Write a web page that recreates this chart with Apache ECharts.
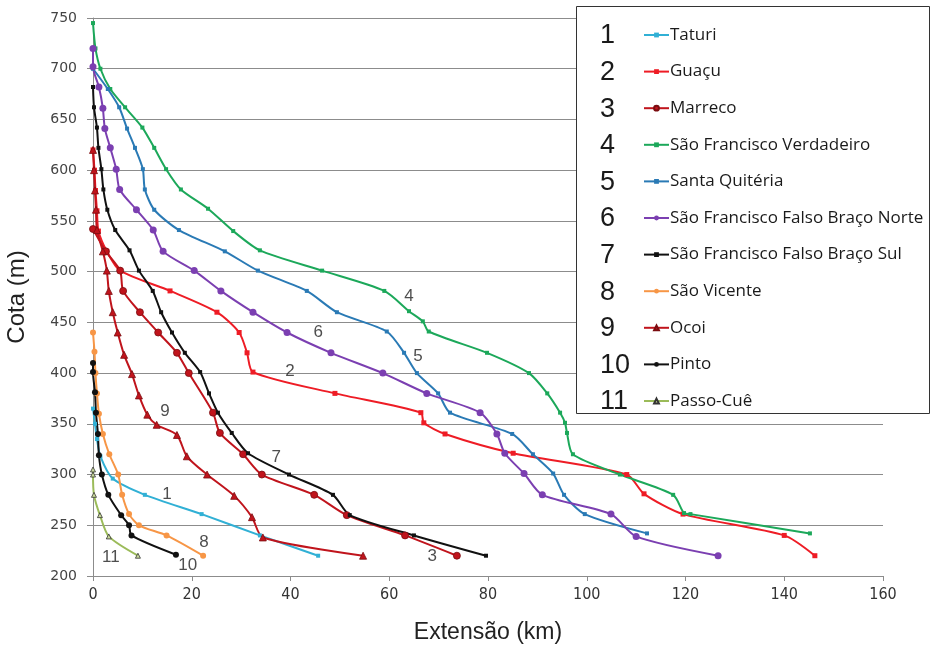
<!DOCTYPE html>
<html>
<head>
<meta charset="utf-8">
<script src="https://cdn.jsdelivr.net/npm/echarts@6/dist/echarts.min.js"></script>
<style>html,body{margin:0;padding:0;background:#fff;}#c{width:931px;height:646px;}</style>
</head>
<body>
<div id="c"></div>
<script>
// ---- data (x = Extensão km, y = Cota m) ----
const names = ['Taturi','Guaçu','Marreco','São Francisco Verdadeiro','Santa Quitéria','São Francisco Falso Braço Norte','São Francisco Falso Braço Sul','São Vicente','Ocoi','Pinto','Passo-Cuê'];
const taturi = [[0,365],[0.4,350],[0.8,335],[1.5,318],[4,296],[10.5,280],[22,261],[33.8,240],[45.6,220]];
const guacu = [[0,620],[0.3,600],[0.5,580],[0.8,560],[1.1,540],[2.8,520],[5.5,501],[15.6,481],[25.1,460],[29.6,440],[31.2,420],[32.4,401],[49,380],[66.4,361],[67,351],[71.3,340],[85.1,321],[108.1,300],[111.6,281],[119.5,261],[140,240],[146.2,220]];
const marreco = [[0,542],[2.6,520],[5.5,501],[6.1,481],[9.5,460],[13.2,440],[17,420],[19.4,400],[24.3,361],[25.7,341],[30.4,320],[34.2,300],[44.8,280],[51.4,260],[63.2,240],[73.7,220]];
const verdadeiro = [[0,745],[0.5,720],[1.5,700],[3.5,680],[6.5,662],[10,642],[12.4,622],[14.8,601],[17.8,581],[23.3,562],[28.4,540],[33.8,521],[46.4,501],[59,481],[64,461],[66.8,451],[68,441],[79.8,420],[88.3,400],[92,380],[94.6,361],[95.6,351],[96,341],[97.2,320],[106.7,300],[117.5,280],[119.7,262],[121,261],[145.2,242]];
const santaQuiteria = [[0,700],[3,680],[5.3,662],[6.9,641],[8.5,622],[10.1,601],[10.5,581],[12.4,561],[17.4,541],[26.7,520],[33.4,501],[43.3,481],[49.4,460],[59.5,441],[63,420],[65.6,400],[69.9,380],[72.3,361],[84.9,340],[89.1,320],[93.2,301],[95.4,280],[99.6,261],[112.2,242]];
const falsoNorte = [[0,720],[0,702],[1.2,682],[2,661],[2.4,641],[3.5,622],[4.7,601],[5.4,581],[8.8,561],[12.2,541],[14.2,520],[20.5,501],[25.9,481],[32.4,460],[39.3,440],[48.2,420],[58.7,400],[67.6,380],[78.4,361],[81.8,340],[83.4,321],[87.3,301],[91,280],[104.9,261],[110,239],[126.6,220]];
const falsoSul = [[0,682],[0.2,662],[0.8,642],[1.1,622],[1.7,601],[2.1,581],[2.9,561],[4.5,541],[7.4,521],[9.3,501],[12.1,481],[13.8,460],[16,440],[18.6,420],[21.7,401],[23.5,380],[25.3,361],[28.1,341],[31.4,321],[39.7,300],[48.6,280],[52,260],[65,240],[79.6,220]];
const saoVicente = [[0,440],[0.3,421],[0.5,400],[0.8,380],[1.2,360],[2,340],[3.3,320],[5.1,300],[5.9,280],[7.3,261],[9.3,250],[14.9,240],[22.3,220]];
const ocoi = [[0,620],[0.2,600],[0.4,580],[0.6,561],[0.8,541],[2,520],[2.8,501],[3.2,481],[4,460],[5,440],[6.3,418],[7.9,399],[9.3,378],[11,359],[12.9,349],[17,339],[19,318],[23.1,300],[28.6,279],[32.2,258],[34.4,238],[54.7,220]];
const pinto = [[0,410],[0,401],[0.4,381],[0.6,361],[1,340],[1.2,319],[1.8,300],[3.1,280],[5.7,260],[7.3,250],[7.8,240],[16.8,221]];
const passoCue = [[0,305],[0,300],[0.2,280],[1.4,260],[3.2,239],[9.1,220]];
// curve number annotations: [label, x, y]
const curveLabels = [['4',64,476],['5',65.8,417],['6',45.6,440],['2',39.9,402],['9',14.6,362],['7',37.1,317],['1',15,281],['3',68.7,219],['8',22.5,233],['10',19.2,211],['11',3.6,218]];
const xTicks = {min:0, max:160, interval:20};
const yTicks = {min:200, max:750, interval:50};

const allData = [taturi,guacu,marreco,verdadeiro,santaQuiteria,falsoNorte,falsoSul,saoVicente,ocoi,pinto,passoCue];
const colors = ['#31b0d5','#ee1c25','#c0141c','#1ca85a','#2a7ab5','#7b3fb1','#111111','#f79646','#c0141c','#111111','#9bbb59'];
const symbols = ['rect','rect','circle','rect','rect','circle','rect','circle','triangle','circle','triangle'];
const symSizes = [4,5,7,4,4,7,4,6,7,6,5];

const series = allData.map((d,i)=>({
  name: names[i], type:'line', data:d, smooth:0.25,
  symbol: symbols[i], symbolSize: symSizes[i], showSymbol:true,
  lineStyle:{width:2, color:colors[i]},
  itemStyle: i===10 ? {color:'#c8d89a', borderColor:'#333', borderWidth:0.8}
            : (i===2||i===8 ? {color:colors[i], borderColor:'#7a0c10', borderWidth:0.8} : {color:colors[i]}),
  z: 3
}));
series.push({
  type:'scatter', name:'labels', symbolSize:0, silent:true,
  data: curveLabels.map(c=>({value:[c[1],c[2]], label:{formatter:c[0]}})),
  label:{show:true, position:'inside', fontSize:17, color:'#222', fontFamily:'Liberation Sans, Arial, sans-serif'},
  z: 4
});

const legTop = 35, legGap = 36.6, legIconH = 6, legLineH = 18;
const graphics = [{type:'rect', shape:{x:576.5,y:6.5,width:353,height:407}, style:{fill:'#fff', stroke:'#333', lineWidth:1}, z:10}];
names.forEach((n,i)=>graphics.push({type:'text', x:600, y:legTop+i*legGap+1, z:11,
  style:{text:String(i+1), font:'27px "Liberation Sans", Arial, sans-serif', fill:'#1a1a1a', verticalAlign:'middle'}}));

const chart = echarts.init(document.getElementById('c'));
chart.setOption({
  animation:false,
  backgroundColor:'#fff',
  grid:{left:93, right:48, top:18, bottom:70, containLabel:false, outerBoundsMode:'none'},
  xAxis:{type:'value', min:xTicks.min, max:xTicks.max, interval:xTicks.interval,
    name:'Extensão (km)', nameLocation:'middle', nameGap:45,
    nameTextStyle:{fontSize:23, color:'#222', fontFamily:'"Liberation Sans", Arial, sans-serif'},
    axisLine:{lineStyle:{color:'#8c8c8c'}}, axisTick:{show:true, length:5, lineStyle:{color:'#8c8c8c'}},
    axisLabel:{fontSize:16, color:'#333', margin:11, fontFamily:'"Liberation Sans Narrow", "DejaVu Sans Condensed", sans-serif'},
    splitLine:{show:false}},
  yAxis:{type:'value', min:yTicks.min, max:yTicks.max, interval:yTicks.interval,
    name:'Cota (m)', nameLocation:'middle', nameGap:64, nameRotate:90,
    nameTextStyle:{fontSize:24, color:'#222', fontFamily:'"Liberation Sans", Arial, sans-serif'},
    axisLine:{show:true, lineStyle:{color:'#8c8c8c'}}, axisTick:{show:true, length:6, lineStyle:{color:'#8c8c8c'}},
    axisLabel:{fontSize:14, color:'#444', margin:16, fontFamily:'"DejaVu Sans", Verdana, sans-serif'},
    splitLine:{show:true, lineStyle:{color:'#8c8c8c', width:1}}},
  legend:{data:names, orient:'vertical', left:643, top:legTop-legLineH/2, itemWidth:25, itemHeight:legIconH, itemGap:legGap-legLineH,
    padding:0, z:12, textStyle:{fontSize:17, lineHeight:legLineH, color:'#1a1a1a', fontFamily:'"Open Sans", sans-serif', padding:[0,0,0,-4]}},
  graphic: graphics,
  series: series
});
</script>
</body>
</html>
